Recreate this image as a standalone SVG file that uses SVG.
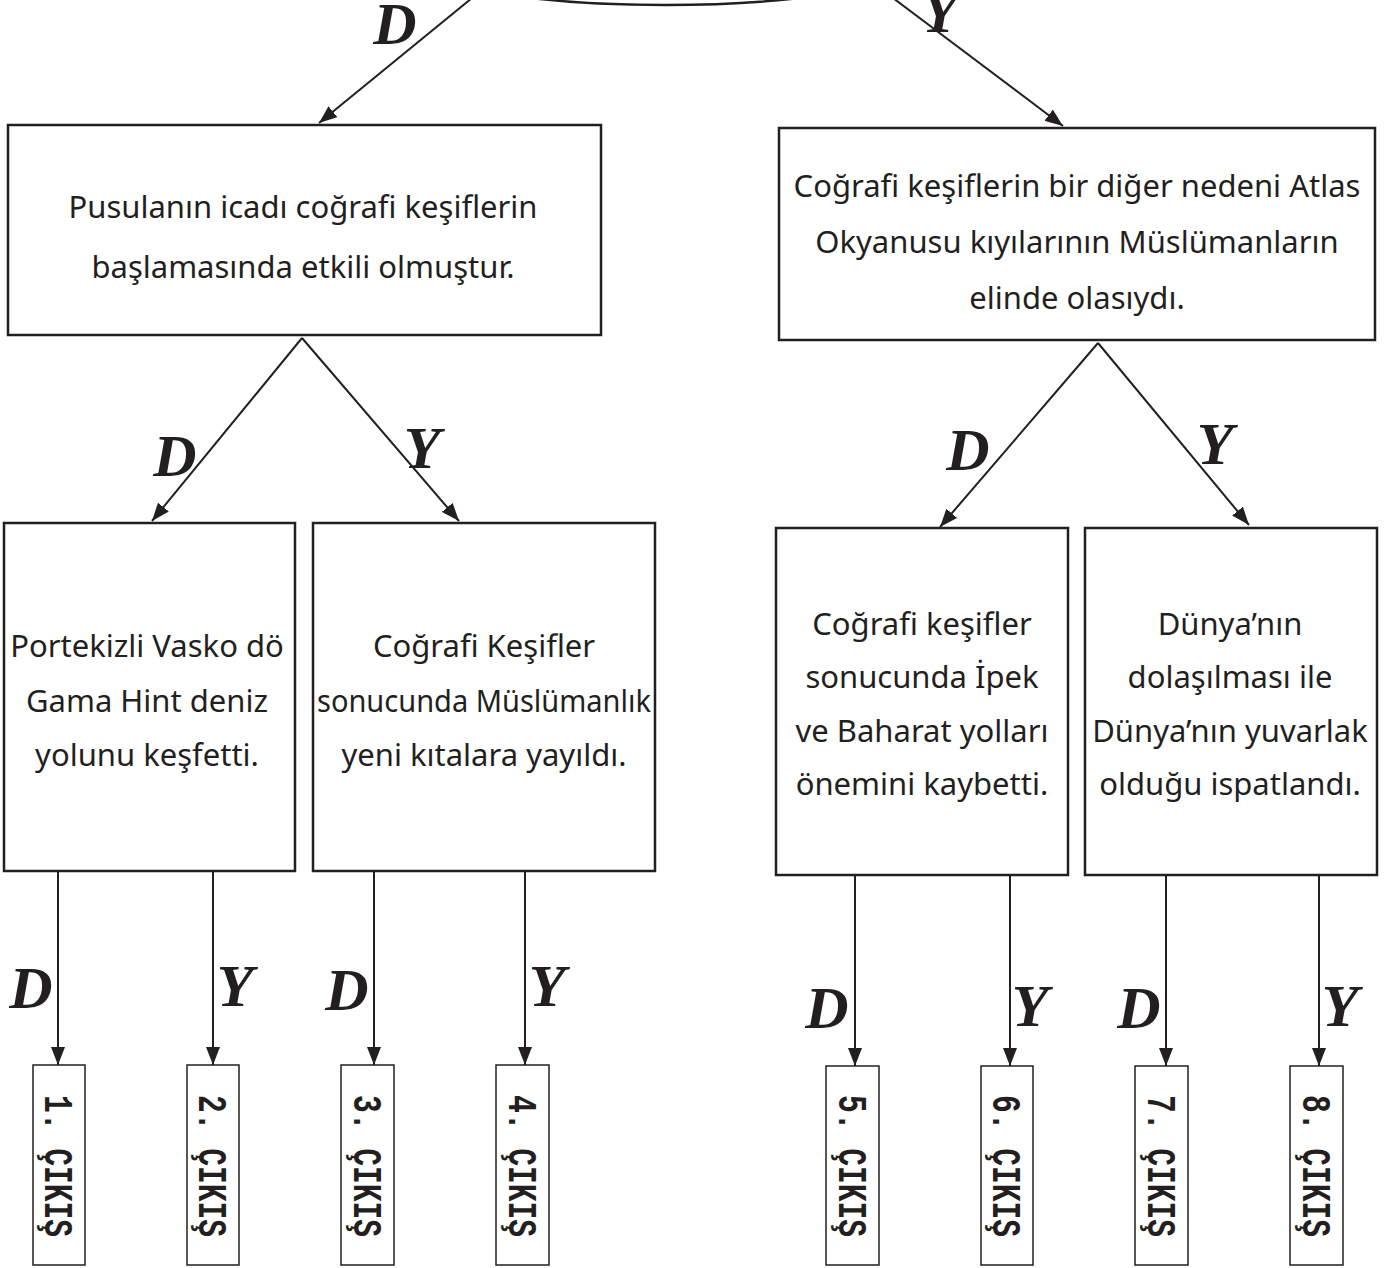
<svg xmlns="http://www.w3.org/2000/svg" width="1388" height="1268" viewBox="0 0 1388 1268">
<style>
.box{fill:#fff;stroke:#231f20;stroke-width:2.5}
.ebox{fill:#fff;stroke:#231f20;stroke-width:1.5}
.t{font-family:"Noto Sans","Liberation Sans",sans-serif;font-size:31px;fill:#231f20;text-anchor:middle}
.lbl{font-family:"Liberation Serif",serif;font-style:italic;font-weight:bold;font-size:60px;fill:#231f20;text-anchor:middle;dominant-baseline:central}
.ex{font-family:"Liberation Mono",monospace;font-weight:bold;font-size:41px;fill:#231f20;text-anchor:middle;dominant-baseline:central}
.c{stroke:#231f20;stroke-width:2;fill:none}
</style>
<defs>
<marker id="ah" markerUnits="userSpaceOnUse" markerWidth="20" markerHeight="14" refX="18" refY="7" orient="auto">
<path d="M0,0 L18,7 L0,14 Z" fill="#231f20"/>
</marker>
</defs>
<rect width="1388" height="1268" fill="#fff"/>

<g id="start">
<ellipse cx="665" cy="-60" rx="294" ry="65" fill="none" stroke="#231f20" stroke-width="2.5"/>
</g>

<g id="connectors">
<line class="c" x1="472" y1="-2" x2="319" y2="123" marker-end="url(#ah)"/>
<line class="c" x1="893" y1="-2" x2="1063" y2="126" marker-end="url(#ah)"/>
<line class="c" x1="302" y1="338" x2="152" y2="521" marker-end="url(#ah)"/>
<line class="c" x1="302" y1="338" x2="459" y2="521" marker-end="url(#ah)"/>
<line class="c" x1="1098" y1="343" x2="940" y2="527" marker-end="url(#ah)"/>
<line class="c" x1="1098" y1="343" x2="1249" y2="525" marker-end="url(#ah)"/>
<g>
<line class="c" x1="58" y1="867" x2="58" y2="1065" marker-end="url(#ah)"/>
<line class="c" x1="213" y1="867" x2="213" y2="1065" marker-end="url(#ah)"/>
<line class="c" x1="374" y1="867" x2="374" y2="1065" marker-end="url(#ah)"/>
<line class="c" x1="525" y1="867" x2="525" y2="1065" marker-end="url(#ah)"/>
<line class="c" x1="855" y1="871" x2="855" y2="1066" marker-end="url(#ah)"/>
<line class="c" x1="1010" y1="871" x2="1010" y2="1066" marker-end="url(#ah)"/>
<line class="c" x1="1166" y1="871" x2="1166" y2="1066" marker-end="url(#ah)"/>
<line class="c" x1="1319" y1="871" x2="1319" y2="1066" marker-end="url(#ah)"/>
<path class="c" d="M53,867h10M208,867h10M369,867h10M520,867h10M850,871h10M1005,871h10M1161,871h10M1314,871h10"/>
</g>
<g id="labels">
<text class="lbl" x="395" y="24">D</text>
<text class="lbl" x="940" y="12">Y</text>
<text class="lbl" x="175" y="456">D</text>
<text class="lbl" x="422" y="448">Y</text>
<text class="lbl" x="968" y="450">D</text>
<text class="lbl" x="1215" y="444">Y</text>
<text class="lbl" x="31" y="988">D</text>
<text class="lbl" x="235" y="986">Y</text>
<text class="lbl" x="347" y="990">D</text>
<text class="lbl" x="547" y="986">Y</text>
<text class="lbl" x="827" y="1008">D</text>
<text class="lbl" x="1030" y="1006">Y</text>
<text class="lbl" x="1139" y="1008">D</text>
<text class="lbl" x="1340" y="1006">Y</text>
</g>
</g>

<g id="nodeA">
<rect class="box" x="8" y="125" width="593" height="210"/>
<text class="t" x="303" y="218">Pusulanın icadı coğrafi keşiflerin</text>
<text class="t" x="303" y="278">başlamasında etkili olmuştur.</text>
</g>
<g id="nodeB">
<rect class="box" x="779" y="128" width="596" height="212"/>
<text class="t" x="1077" y="197">Coğrafi keşiflerin bir diğer nedeni Atlas</text>
<text class="t" x="1077" y="253">Okyanusu kıyılarının Müslümanların</text>
<text class="t" x="1077" y="309">elinde olasıydı.</text>
</g>
<g id="nodeC1">
<rect class="box" x="4" y="523" width="291" height="348"/>
<text class="t" x="147" y="657">Portekizli Vasko dö</text>
<text class="t" x="147" y="712">Gama Hint deniz</text>
<text class="t" x="147" y="766">yolunu keşfetti.</text>
</g>
<g id="nodeC2">
<rect class="box" x="313" y="523" width="342" height="348"/>
<text class="t" x="484" y="657">Coğrafi Keşifler</text>
<text class="t" x="484" y="712" textLength="334" lengthAdjust="spacingAndGlyphs">sonucunda Müslümanlık</text>
<text class="t" x="484" y="766">yeni kıtalara yayıldı.</text>
</g>
<g id="nodeC3">
<rect class="box" x="776" y="528" width="292" height="347"/>
<text class="t" x="922" y="635">Coğrafi keşifler</text>
<text class="t" x="922" y="688">sonucunda İpek</text>
<text class="t" x="922" y="742">ve Baharat yolları</text>
<text class="t" x="922" y="795">önemini kaybetti.</text>
</g>
<g id="nodeC4">
<rect class="box" x="1085" y="528" width="292" height="347"/>
<text class="t" x="1230" y="635">Dünya’nın</text>
<text class="t" x="1230" y="688">dolaşılması ile</text>
<text class="t" x="1230" y="742">Dünya’nın yuvarlak</text>
<text class="t" x="1230" y="795">olduğu ispatlandı.</text>
</g>

<g id="exit1"><rect class="ebox" x="33" y="1065" width="52" height="200"/><text class="ex" transform="translate(56,1166) rotate(90)" textLength="142" lengthAdjust="spacingAndGlyphs">1. ÇIKIŞ</text></g>
<g id="exit2"><rect class="ebox" x="187" y="1065" width="52" height="200"/><text class="ex" transform="translate(210,1166) rotate(90)" textLength="142" lengthAdjust="spacingAndGlyphs">2. ÇIKIŞ</text></g>
<g id="exit3"><rect class="ebox" x="341" y="1065" width="53" height="200"/><text class="ex" transform="translate(365,1166) rotate(90)" textLength="142" lengthAdjust="spacingAndGlyphs">3. ÇIKIŞ</text></g>
<g id="exit4"><rect class="ebox" x="496" y="1065" width="53" height="200"/><text class="ex" transform="translate(520,1166) rotate(90)" textLength="142" lengthAdjust="spacingAndGlyphs">4. ÇIKIŞ</text></g>
<g id="exit5"><rect class="ebox" x="826" y="1066" width="53" height="199"/><text class="ex" transform="translate(850,1166) rotate(90)" textLength="142" lengthAdjust="spacingAndGlyphs">5. ÇIKIŞ</text></g>
<g id="exit6"><rect class="ebox" x="981" y="1066" width="52" height="199"/><text class="ex" transform="translate(1004,1166) rotate(90)" textLength="142" lengthAdjust="spacingAndGlyphs">6. ÇIKIŞ</text></g>
<g id="exit7"><rect class="ebox" x="1135" y="1066" width="53" height="199"/><text class="ex" transform="translate(1159,1166) rotate(90)" textLength="142" lengthAdjust="spacingAndGlyphs">7. ÇIKIŞ</text></g>
<g id="exit8"><rect class="ebox" x="1290" y="1066" width="53" height="199"/><text class="ex" transform="translate(1314,1166) rotate(90)" textLength="142" lengthAdjust="spacingAndGlyphs">8. ÇIKIŞ</text></g>
</svg>
